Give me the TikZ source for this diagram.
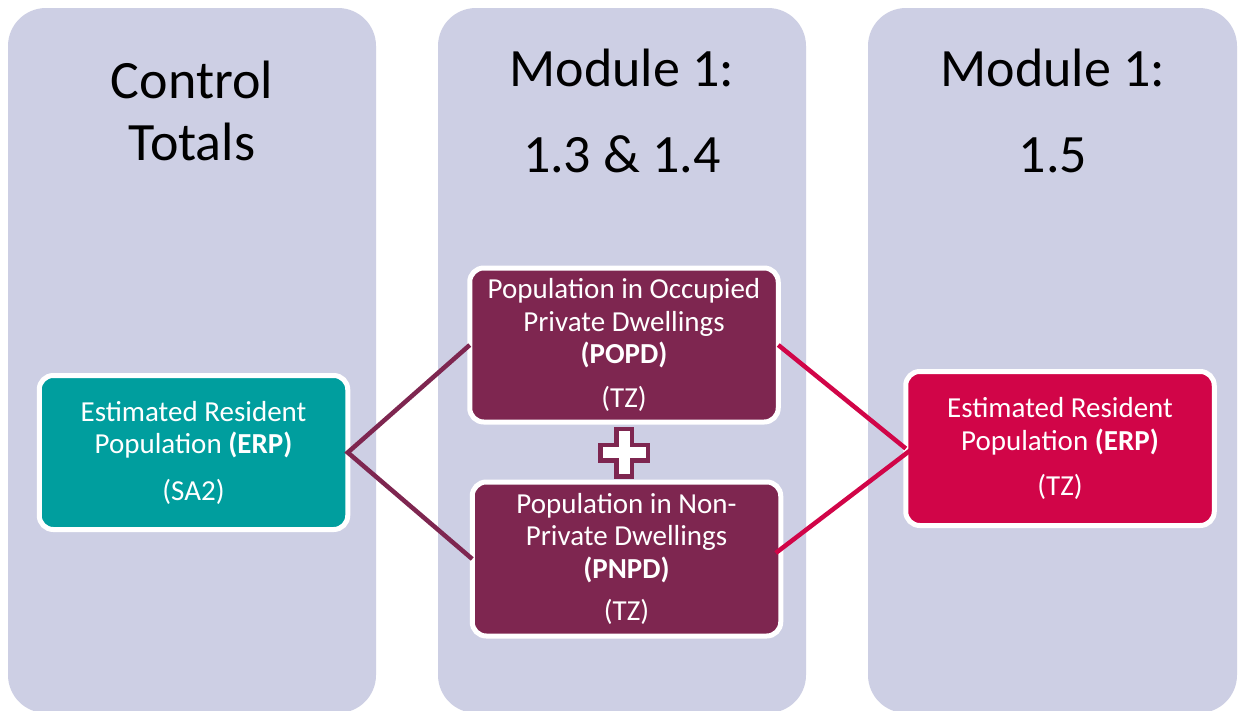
\documentclass[tikz,border=0pt]{standalone}
\usepackage{fontspec}
\setmainfont{Carlito}
\usetikzlibrary{calc}

\definecolor{lavender}{RGB}{205,207,228}
\definecolor{tealbox}{RGB}{0,158,158}
\definecolor{maroonbox}{RGB}{126,38,80}
\definecolor{crimsonbox}{RGB}{209,5,72}

\tikzset{
  column/.style={fill=lavender, draw=none, rounded corners=38pt},
  title/.style={anchor=base, font=\fontsize{54}{62}\selectfont, text=black, inner sep=0pt},
  infobox/.style={draw=white, line width=5pt, rounded corners=14pt, text=white,
    align=center, inner sep=0pt, outer sep=0pt,
    minimum width=308.5pt, minimum height=154pt,
    font=\fontsize{29}{32.5}\selectfont},
  link/.style={line width=4.5pt},
}

\begin{document}
\begin{tikzpicture}[x=1pt,y=-1pt]
  \useasboundingbox (0,0) rectangle (1243,710);
  \clip (0,0) rectangle (1243,710);
  \fill[white] (0,0) rectangle (1243,710);

  % three stage columns
  \path[column] (8,8) rectangle (376,713);
  \path[column] (438,8) rectangle (806,713);
  \path[column] (868,8) rectangle (1237,713);

  % column headings
  \node[title] (h1a) at (192,98) {Control};
  \node[title] (h1b) at (192,160) {Totals};
  \node[title] (h2a) at (622,86) {Module 1:};
  \node[title] (h2b) at (622,172) {1.3 \& 1.4};
  \node[title] (h3a) at (1053,86) {Module 1:};
  \node[title] (h3b) at (1053,172) {1.5};

  % boxes
  \node[infobox, fill=tealbox] (erpsa) at (193.5,452.5)
    {Estimated Resident\\Population \textbf{(ERP)}\\[14pt](SA2)};
  \node[infobox, fill=maroonbox] (popd) at (624,345)
    {Population in Occupied\\Private Dwellings\\\textbf{(POPD)}\\[11pt](TZ)};
  \node[infobox, fill=maroonbox] (pnpd) at (626.5,559)
    {Population in Non-\\Private Dwellings\\\textbf{(PNPD)}\\[10pt](TZ)};
  \node[infobox, fill=crimsonbox] (erptz) at (1060,448.5)
    {Estimated Resident\\Population \textbf{(ERP)}\\[13pt](TZ)};

  % plus sign between the two dwelling boxes
  \draw[maroonbox, fill=white, line width=4.5pt, line join=miter]
    (616.25,428.75) -- (631.75,428.75) -- (631.75,444.75) -- (647.75,444.75)
    -- (647.75,460.25) -- (631.75,460.25) -- (631.75,476.25) -- (616.25,476.25)
    -- (616.25,460.25) -- (600.25,460.25) -- (600.25,444.75) -- (616.25,444.75)
    -- cycle;

  % connectors
  \coordinate (erpin) at (933,433);
  \draw[link, maroonbox] (popd.west) -- (erpsa.east) -- (pnpd.west);
  \draw[link, crimsonbox] (popd.east) -- (erptz.west);
  \draw[link, crimsonbox] ([xshift=-5pt,yshift=6pt]pnpd.east) -- (erpin);
\end{tikzpicture}
\end{document}
